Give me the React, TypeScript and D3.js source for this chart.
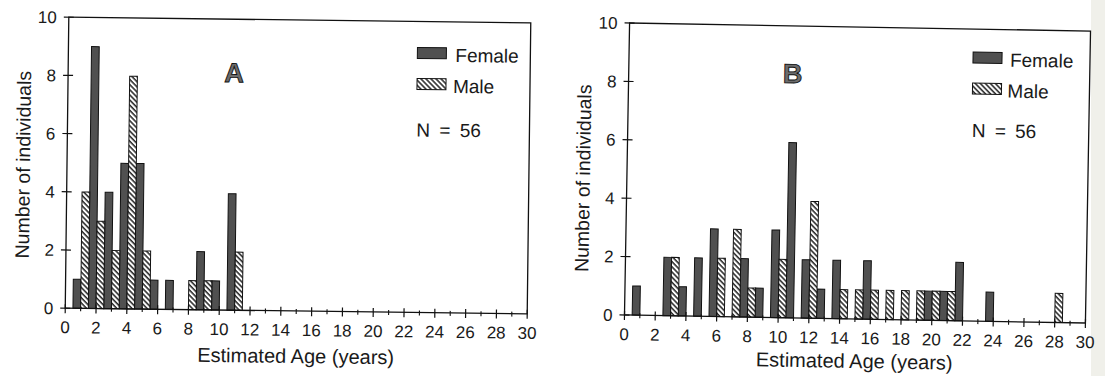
import { useEffect, useRef } from "react";
import * as d3 from "d3";

// age classes (years) and counts
const agesA = [1, 2, 3, 4, 5, 6, 7, 8, 9, 10, 11];
const femaleA = [1, 9, 4, 5, 5, 1, 1, 0, 2, 1, 4];
const maleA = [4, 3, 2, 8, 2, 0, 0, 1, 1, 0, 2];

const agesB = [1, 2, 3, 4, 5, 6, 7, 8, 9, 10, 11, 12, 13, 14, 15, 16, 17, 18, 19, 20, 21, 22, 23, 24, 25, 26, 27, 28];
const femaleB = [1, 0, 2, 1, 2, 3, 0, 2, 1, 3, 6, 2, 1, 2, 0, 2, 0, 0, 0, 1, 1, 2, 0, 1, 0, 0, 0, 0];
const maleB = [0, 0, 2, 0, 0, 2, 3, 1, 0, 2, 0, 4, 0, 1, 1, 1, 1, 1, 1, 1, 1, 0, 0, 0, 0, 0, 0, 1];

const yTicks = [0, 2, 4, 6, 8, 10];
const xTicks = [0, 2, 4, 6, 8, 10, 12, 14, 16, 18, 20, 22, 24, 26, 28, 30];
const xMinor = [1, 3, 5, 7, 9, 11, 13, 15, 17, 19, 21, 23, 25, 27, 29];

const seriesNames = ["Female", "Male"];
const nText = "N = 56";
const xTitle = "Estimated Age (years)";
const yTitle = "Number of individuals";

const FONT = "'Liberation Sans', Arial, Helvetica, sans-serif";
const DARK = "#505050";

const panels = [
  {
    letter: "A", ages: agesA, female: femaleA, male: maleA,
    x0: 67, x1: 529, y0: 20, y1: 311, cx: 298, cy: 166, angle: 0.7,
    letterPos: [233, 83], leg: [416, 46], legText: [454, 60], nPos: [416, 135],
    yTitleX: 30, yTitleY: 168, tickDy: 25, titleDy: 52,
  },
  {
    letter: "B", ages: agesB, female: femaleB, male: maleB,
    x0: 627, x1: 1088, y0: 27, y1: 319, cx: 857, cy: 173, angle: 1.0,
    letterPos: [791, 84], leg: [971, 50], legText: [1008, 64], nPos: [971, 135],
    yTitleX: 590, yTitleY: 183, tickDy: 25, titleDy: 49,
  },
];

const App = () => {
  const svgRef = useRef<SVGSVGElement>(null);

  useEffect(() => {
    const svg = d3.select(svgRef.current);
    svg.selectAll("*").remove();

    const defs = svg.append("defs");
    const pat = defs.append("pattern")
      .attr("id", "hatch")
      .attr("patternUnits", "userSpaceOnUse")
      .attr("width", 3.6)
      .attr("height", 3.6)
      .attr("patternTransform", "rotate(-45)");
    pat.append("rect").attr("width", 3.6).attr("height", 3.6).attr("fill", "#fff");
    pat.append("line")
      .attr("x1", 1).attr("y1", 0).attr("x2", 1).attr("y2", 3.6)
      .attr("stroke", "#111").attr("stroke-width", 1.4);

    // scanned paper edge on the right
    svg.append("rect")
      .attr("x", 1091).attr("y", 0).attr("width", 14).attr("height", 376)
      .attr("fill", "#f0f0ea");

    panels.forEach(p => {
      const g = svg.append("g")
        .attr("transform", `rotate(${p.angle} ${p.cx} ${p.cy})`)
        .style("font-family", FONT);

      const x = d3.scaleLinear().domain([0, 30]).range([p.x0, p.x1]);
      const y = d3.scaleLinear().domain([0, 10]).range([p.y1, p.y0]);

      const fData = p.ages.map((a, i) => ({ age: a, v: p.female[i] })).filter(d => d.v > 0);
      const mData = p.ages.map((a, i) => ({ age: a, v: p.male[i] })).filter(d => d.v > 0);

      g.append("g").selectAll("rect")
        .data(fData)
        .join("rect")
        .attr("x", d => x(d.age - 0.5))
        .attr("width", d => x(d.age) - x(d.age - 0.5))
        .attr("y", d => y(d.v))
        .attr("height", d => y(0) - y(d.v))
        .attr("fill", DARK)
        .attr("stroke", "#111")
        .attr("stroke-width", 1);

      g.append("g").selectAll("rect")
        .data(mData)
        .join("rect")
        .attr("x", d => x(d.age))
        .attr("width", d => x(d.age + 0.5) - x(d.age))
        .attr("y", d => y(d.v))
        .attr("height", d => y(0) - y(d.v))
        .attr("fill", "url(#hatch)")
        .attr("stroke", "#111")
        .attr("stroke-width", 1);

      // frame
      g.append("rect")
        .attr("x", p.x0).attr("y", p.y0)
        .attr("width", p.x1 - p.x0).attr("height", p.y1 - p.y0)
        .attr("fill", "none").attr("stroke", "#111").attr("stroke-width", 1.3);

      // x ticks
      g.append("g").selectAll("line")
        .data(xTicks)
        .join("line")
        .attr("x1", d => x(d)).attr("x2", d => x(d))
        .attr("y1", p.y1 - 4).attr("y2", p.y1 + 5)
        .attr("stroke", "#111").attr("stroke-width", 1.2);
      g.append("g").selectAll("line")
        .data(xMinor)
        .join("line")
        .attr("x1", d => x(d)).attr("x2", d => x(d))
        .attr("y1", p.y1 - 2).attr("y2", p.y1 + 3)
        .attr("stroke", "#111").attr("stroke-width", 1.1);
      g.append("g").selectAll("text")
        .data(xTicks)
        .join("text")
        .attr("x", d => x(d))
        .attr("y", p.y1 + p.tickDy)
        .attr("text-anchor", "middle")
        .attr("font-size", 17)
        .attr("fill", "#1a1a1a")
        .text(d => d);

      // y ticks
      g.append("g").selectAll("line")
        .data(yTicks)
        .join("line")
        .attr("x1", p.x0 - 5).attr("x2", p.x0 + 5)
        .attr("y1", d => y(d)).attr("y2", d => y(d))
        .attr("stroke", "#111").attr("stroke-width", 1.2);
      g.append("g").selectAll("text")
        .data(yTicks)
        .join("text")
        .attr("x", p.x0 - 12)
        .attr("y", d => y(d))
        .attr("dy", "0.36em")
        .attr("text-anchor", "end")
        .attr("font-size", 17)
        .attr("fill", "#1a1a1a")
        .text(d => d);

      // axis titles
      g.append("text")
        .attr("x", (p.x0 + p.x1) / 2)
        .attr("y", p.y1 + p.titleDy)
        .attr("text-anchor", "middle")
        .attr("font-size", 20)
        .attr("fill", "#1a1a1a")
        .text(xTitle);
      g.append("text")
        .attr("transform", `translate(${p.yTitleX} ${p.yTitleY}) rotate(-90)`)
        .attr("text-anchor", "middle")
        .attr("font-size", 19.5)
        .attr("fill", "#1a1a1a")
        .text(yTitle);

      // panel letter
      g.append("text")
        .attr("x", p.letterPos[0]).attr("y", p.letterPos[1])
        .attr("text-anchor", "middle")
        .attr("font-size", 27)
        .attr("font-weight", "bold")
        .attr("fill", "#6c6c6c")
        .attr("stroke", "#111")
        .attr("stroke-width", 0.9)
        .text(p.letter);

      // legend
      const leg = g.append("g");
      seriesNames.forEach((name, i) => {
        leg.append("rect")
          .attr("x", p.leg[0]).attr("y", p.leg[1] + i * 31)
          .attr("width", 29).attr("height", 11)
          .attr("fill", i === 0 ? DARK : "url(#hatch)")
          .attr("stroke", "#111").attr("stroke-width", 1);
        leg.append("text")
          .attr("x", p.legText[0] - (i === 0 ? 0 : 2)).attr("y", p.legText[1] + i * 31)
          .attr("font-size", 19)
          .attr("fill", "#1a1a1a")
          .text(name);
      });
      leg.append("text")
        .attr("x", p.nPos[0]).attr("y", p.nPos[1])
        .attr("font-size", 19)
        .attr("fill", "#1a1a1a")
        .attr("word-spacing", 4)
        .text(nText);
    });
  }, []);

  return (
    <svg
      ref={svgRef}
      width={1105}
      height={376}
      style={{ position: "absolute", left: 0, top: 0, background: "#fff" }}
    />
  );
};

export default App;
